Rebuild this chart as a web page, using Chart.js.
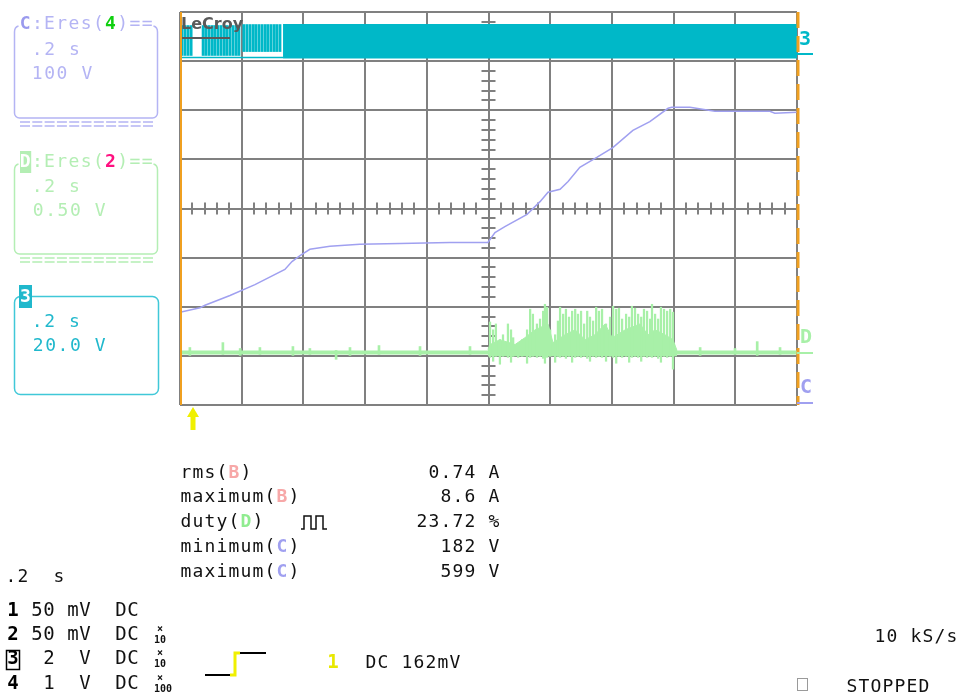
<!DOCTYPE html>
<html lang="en">
<head>
<meta charset="UTF-8" />
<title>LeCroy capture</title>
<script src="https://cdn.jsdelivr.net/npm/chart.js"></script>
<style>
  body { margin: 0; background: #fff; }
  canvas { display: block; }
</style>
</head>
<body>
<canvas id="scope" width="960" height="693"></canvas>
<script>
// time axis in ms: 0.2 s/div, 10 divisions
var timeMin = 0, timeMax = 2000, timeStep = 200;

// trace C = Eres(4), volts (100 V/div)
var cTime  = [0, 65, 81, 162, 243, 340, 363, 389, 421, 486, 583, 713, 875, 998, 1021, 1053, 1125, 1167, 1193, 1232, 1258, 1296, 1351, 1403, 1468, 1523, 1582, 1594, 1653, 1734, 1912, 1928, 2000];
var cVolts = [182, 191, 196, 216, 238, 269, 285, 297, 310, 316, 320, 322, 324, 324, 344, 356, 381, 407, 426, 432, 448, 477, 497, 517, 552, 570, 597, 599, 599, 591, 591, 587, 589];

// trace D = Eres(2), volts (0.5 V/div)
var dBaseTime  = [0, 2000];
var dBaseVolts = [0, 0];
var quietTime = [32, 139, 195, 259, 366, 421, 506, 551, 645, 778, 940, 1686, 1799, 1871, 1945];
var quietHigh = [0.05, 0.10, 0.04, 0.05, 0.06, 0.04, 0.02, 0.05, 0.07, 0.06, 0.06, 0.05, 0.04, 0.11, 0.05];
var quietLow  = [-0.03, -0.02, -0.03, -0.02, -0.03, -0.02, -0.07, -0.03, -0.02, -0.03, -0.02, -0.03, -0.02, -0.03, -0.02];
var burstTime = [1005, 1015, 1024, 1037, 1047, 1063, 1073, 1080, 1096, 1109, 1125, 1135, 1144, 1157, 1167, 1177, 1183, 1190, 1200, 1216, 1225, 1232, 1242, 1251, 1261, 1271, 1281, 1290, 1300, 1310, 1320, 1329, 1339, 1349, 1358, 1368, 1381, 1394, 1404, 1414, 1423, 1433, 1446, 1456, 1465, 1475, 1485, 1495, 1504, 1514, 1524, 1530, 1540, 1550, 1559, 1569, 1579, 1589, 1598];
var burstHigh = [0.31, 0.23, 0.29, 0.13, 0.18, 0.29, 0.23, 0.15, 0.08, 0.13, 0.23, 0.44, 0.39, 0.29, 0.34, 0.42, 0.49, 0.46, 0.23, 0.18, 0.32, 0.46, 0.39, 0.44, 0.36, 0.42, 0.44, 0.39, 0.42, 0.29, 0.42, 0.36, 0.32, 0.46, 0.42, 0.44, 0.29, 0.36, 0.47, 0.44, 0.45, 0.34, 0.39, 0.36, 0.47, 0.45, 0.39, 0.36, 0.44, 0.42, 0.34, 0.49, 0.39, 0.34, 0.46, 0.44, 0.42, 0.44, 0.41];
var burstLow  = [-0.05, -0.09, -0.04, -0.12, -0.04, -0.05, -0.10, -0.04, -0.05, -0.04, -0.11, -0.05, -0.04, -0.05, -0.04, -0.06, -0.11, -0.05, -0.04, -0.10, -0.04, -0.05, -0.04, -0.06, -0.04, -0.10, -0.05, -0.04, -0.05, -0.04, -0.06, -0.09, -0.04, -0.05, -0.04, -0.05, -0.09, -0.04, -0.05, -0.11, -0.04, -0.05, -0.04, -0.10, -0.05, -0.04, -0.05, -0.09, -0.04, -0.05, -0.04, -0.05, -0.04, -0.06, -0.10, -0.04, -0.05, -0.04, -0.17];
var bodyTime = [998, 1005, 1037, 1086, 1118, 1151, 1193, 1209, 1248, 1281, 1313, 1345, 1378, 1401, 1443, 1491, 1517, 1540, 1572, 1598, 1611];
var bodyHigh = [0.03, 0.08, 0.13, 0.08, 0.15, 0.23, 0.29, 0.10, 0.18, 0.23, 0.13, 0.18, 0.29, 0.15, 0.23, 0.29, 0.18, 0.23, 0.18, 0.13, 0.02];

// trace 3, volts (20 V/div): sparse comb at the start, then a solid band
var combTime = [6, 16, 26, 36, 75, 84, 94, 104, 113, 123, 133, 143, 152, 162, 172, 182, 191, 207, 217, 227, 237, 246, 256, 266, 276, 285, 295, 305, 314, 324];
var combHigh = [11.8, 11.8, 11.8, 11.8, 11.8, 11.8, 11.8, 11.8, 11.8, 11.8, 11.8, 11.8, 11.8, 11.8, 11.8, 11.8, 11.8, 12.2, 12.2, 12.2, 12.2, 12.2, 12.2, 12.2, 12.2, 12.2, 12.2, 12.2, 12.2, 12.2];
var combLow  = [-0.4, -0.4, -0.4, -0.4, -0.4, -0.4, -0.4, -0.4, -0.4, -0.4, -0.4, -0.4, -0.4, -0.4, -0.4, -0.4, -0.4, 1.2, 1.2, 1.2, 1.2, 1.2, 1.2, 1.2, 1.2, 1.2, 1.2, 1.2, 1.2, 1.2];
var bandTime = [334, 2000];
var bandHigh = [12.2, 12.2];
var bandLow = -1.6;
var floorTime = [0, 334];
var floorVolts = [-1.2, -1.2];

// readouts
var measureNames  = ['rms', 'maximum', 'duty', 'minimum', 'maximum'];
var measureSource = ['B', 'B', 'D', 'C', 'C'];
var measureValues = ['0.74 A', '8.6 A', '23.72 %', '182 V', '599 V'];
var chanRows = [['1', ' 50 mV  DC', ''], ['2', ' 50 mV  DC', '10'], ['3', '  2  V  DC', '10'], ['4', '  1  V  DC', '100']];

var MONO = '"DejaVu Sans Mono", monospace';
var grid = '#808080';
var purple = '#a0a0f0', green = '#a8f0a8', teal = '#00b8c8', orange = '#f0a020';

function pts(xs, ys) { return xs.map(function (x, i) { return { x: x, y: ys[i] }; }); }
function bars(xs, lo, hi) { return xs.map(function (x, i) { return { x: x, y: [lo[i], hi[i]] }; }); }

// draw text on a fixed character grid
function run(ctx, x, y, adv, size, parts) {
  var i = 0;
  ctx.textAlign = 'center';
  ctx.textBaseline = 'middle';
  parts.forEach(function (p) {
    ctx.font = (p[2] ? 'bold ' : '') + size + 'px ' + MONO;
    for (var k = 0; k < p[0].length; k++) {
      var ch = p[0][k];
      var cx = x + adv * (i + 0.5);
      if (p[3]) {
        ctx.fillStyle = p[3];
        ctx.fillRect(cx - adv / 2 + 1, y - 11, adv - 1, 22);
      }
      if (ch !== ' ') {
        ctx.fillStyle = p[1];
        ctx.fillText(ch, cx, y);
      }
      i++;
    }
  });
}

function openBox(ctx, top, bottom, color) {
  var l = 14.5, r = 157.5, rad = 5;
  ctx.strokeStyle = color;
  ctx.lineWidth = 1.5;
  ctx.beginPath();
  ctx.moveTo(l + 4, top - 4);
  ctx.quadraticCurveTo(l, top - 3, l, top + 2);
  ctx.lineTo(l, bottom - rad);
  ctx.arcTo(l, bottom, l + rad, bottom, rad);
  ctx.lineTo(r - rad, bottom);
  ctx.arcTo(r, bottom, r, bottom - rad, rad);
  ctx.lineTo(r, top + 2);
  ctx.quadraticCurveTo(r, top - 3, r - 4, top - 4);
  ctx.stroke();
  ctx.setLineDash([10, 2.3]);
  ctx.beginPath();
  ctx.moveTo(20, bottom + 4); ctx.lineTo(155, bottom + 4);
  ctx.moveTo(20, bottom + 8); ctx.lineTo(155, bottom + 8);
  ctx.stroke();
  ctx.setLineDash([]);
}

var overlay = {
  id: 'overlay',
  beforeDatasetsDraw: function (chart) {
    var ctx = chart.ctx, xs = chart.scales.x, ys = chart.scales.y;
    var cx = xs.getPixelForValue(1000), cy = ys.getPixelForValue(0);
    ctx.save();
    ctx.strokeStyle = grid;
    ctx.lineWidth = 2;
    ctx.beginPath();
    for (var i = 1; i < 50; i++) {
      if (i % 5 === 0) continue;
      var px = Math.round(xs.getPixelForValue(i * 40));
      ctx.moveTo(px, cy - 6); ctx.lineTo(px, cy + 6);
    }
    for (var j = -19; j < 20; j++) {
      if (j % 5 === 0) continue;
      var py = Math.round(ys.getPixelForValue(j / 5));
      ctx.moveTo(cx - 7, py); ctx.lineTo(cx + 7, py);
    }
    ctx.stroke();
    ctx.restore();
  },
  afterDraw: function (chart) {
    var ctx = chart.ctx, a = chart.chartArea;
    ctx.save();

    // logo
    ctx.fillStyle = '#5a5a5a';
    ctx.font = 'bold 16px "DejaVu Sans"';
    ctx.textAlign = 'left';
    ctx.textBaseline = 'middle';
    ctx.fillText('LeCroy', a.left + 1, 25);
    ctx.fillRect(a.left + 2, 37, 48, 2);

    // trigger position / frame markers
    ctx.strokeStyle = orange;
    ctx.lineWidth = 2;
    ctx.beginPath();
    ctx.moveTo(a.left + 1, a.top); ctx.lineTo(a.left + 1, a.bottom);
    ctx.stroke();
    ctx.lineWidth = 3;
    ctx.setLineDash([16, 8]);
    ctx.beginPath();
    ctx.moveTo(a.right + 1, a.top); ctx.lineTo(a.right + 1, a.bottom);
    ctx.stroke();
    ctx.setLineDash([]);

    ctx.fillStyle = '#f0f000';
    ctx.beginPath();
    ctx.moveTo(187, 417); ctx.lineTo(193, 407); ctx.lineTo(199, 417);
    ctx.closePath(); ctx.fill();
    ctx.fillRect(190.5, 416, 5, 14);

    // trace labels on the right edge
    ctx.font = 'bold 20px ' + MONO;
    ctx.textAlign = 'center';
    ctx.fillStyle = teal; ctx.fillText('3', 805, 40);
    ctx.fillRect(797, 53, 16, 2);
    ctx.fillStyle = green; ctx.fillText('D', 806, 338);
    ctx.fillRect(797, 352, 16, 2);
    ctx.fillStyle = purple; ctx.fillText('C', 806, 388);
    ctx.fillRect(797, 402, 16, 2);

    // trace info boxes
    openBox(ctx, 30, 118, '#b4b4f4');
    run(ctx, 19, 24, 12.2, 18, [['C', '#9a9aee', true], [':Eres(', '#b4b4f4'], ['4', '#10d010', true], [')==', '#b4b4f4']]);
    run(ctx, 31, 50, 12.4, 18, [['.2 s', '#b4b4f4']]);
    run(ctx, 31, 74, 12.4, 18, [['100 V', '#b4b4f4']]);

    openBox(ctx, 168, 254, '#b4eeb4');
    run(ctx, 19, 162, 12.2, 18, [['D', '#ffffff', true, '#b4eeb4'], [':Eres(', '#b4eeb4'], ['2', '#ff1080', true], [')==', '#b4eeb4']]);
    run(ctx, 31, 187, 12.4, 18, [['.2 s', '#b4eeb4']]);
    run(ctx, 32, 211, 12.4, 18, [['0.50 V', '#b4eeb4']]);

    ctx.strokeStyle = '#40c8d8';
    ctx.lineWidth = 1.5;
    ctx.beginPath();
    ctx.roundRect(14.5, 296.5, 144, 98, 6);
    ctx.stroke();
    ctx.fillStyle = '#20b8cc';
    ctx.fillRect(19, 285, 13, 23);
    ctx.font = 'bold 18px ' + MONO;
    ctx.fillStyle = '#ffffff';
    ctx.fillText('3', 25.5, 297);
    run(ctx, 31, 322, 12.4, 18, [['.2 s', '#20b8cc']]);
    run(ctx, 32, 346, 12.4, 18, [['20.0 V', '#20b8cc']]);

    // measurements
    var srcColor = { B: '#f7a8a8', D: '#90ec90', C: '#a0a0f0' };
    var rowY = [473, 497.5, 522, 547, 572];
    for (var m = 0; m < measureNames.length; m++) {
      run(ctx, 180, rowY[m], 12, 18, [[measureNames[m] + '(', '#111'], [measureSource[m], srcColor[measureSource[m]], true], [')', '#111']]);
      var v = measureValues[m];
      run(ctx, 500 - v.length * 12, rowY[m], 12, 18, [[v, '#111']]);
    }
    ctx.strokeStyle = '#111';
    ctx.lineWidth = 1.5;
    ctx.beginPath();
    ctx.moveTo(301, 529); ctx.lineTo(304, 529); ctx.lineTo(304, 516); ctx.lineTo(311, 516);
    ctx.lineTo(311, 529); ctx.lineTo(316, 529); ctx.lineTo(316, 516); ctx.lineTo(323, 516);
    ctx.lineTo(323, 529); ctx.lineTo(327, 529);
    ctx.stroke();

    // timebase + channel setup
    run(ctx, 5, 577, 12, 18, [['.2  s', '#111']]);
    var chanY = [611, 635, 659, 684];
    for (var c = 0; c < chanRows.length; c++) {
      run(ctx, 7, chanY[c], 12, 19, [[chanRows[c][0], '#000', true], [chanRows[c][1], '#111']]);
      if (chanRows[c][2]) {
        ctx.fillStyle = '#111';
        ctx.font = 'bold 10px ' + MONO;
        ctx.textAlign = 'center';
        ctx.fillText('\u00d7', 160, chanY[c] - 6);
        ctx.fillText(chanRows[c][2], 160 + (chanRows[c][2].length - 2) * 3, chanY[c] + 5);
      }
    }
    ctx.strokeStyle = '#000';
    ctx.lineWidth = 1.5;
    ctx.strokeRect(6.5, 650.5, 13, 19);

    // trigger readout
    ctx.lineWidth = 2;
    ctx.strokeStyle = '#000';
    ctx.beginPath();
    ctx.moveTo(205, 675); ctx.lineTo(230, 675);
    ctx.moveTo(240, 653); ctx.lineTo(266, 653);
    ctx.stroke();
    ctx.strokeStyle = '#f0f000';
    ctx.lineWidth = 3;
    ctx.beginPath();
    ctx.moveTo(230, 675); ctx.lineTo(235, 675); ctx.lineTo(235, 653); ctx.lineTo(240, 653);
    ctx.stroke();
    run(ctx, 327, 663, 12, 19, [['1', '#e8e800', true]]);
    run(ctx, 365, 663, 12, 18, [['DC 162mV', '#111']]);

    run(ctx, 874, 637, 12, 18, [['10 kS/s', '#111']]);
    run(ctx, 846, 687, 12, 18, [['STOPPED', '#111']]);
    ctx.strokeStyle = '#9a9a9a';
    ctx.lineWidth = 1;
    ctx.strokeRect(797.5, 678.5, 10, 12);

    ctx.restore();
  }
};

var ctx = document.getElementById('scope').getContext('2d');
var scopeChart = new Chart(ctx, {
  type: 'line',
  data: {
    datasets: [
      { label: 'C', data: pts(cTime, cVolts), yAxisID: 'yC', borderColor: purple, borderWidth: 1.5, pointRadius: 0, fill: false, order: 1 },
      { type: 'bar', label: 'D burst', data: bars(burstTime, burstLow, burstHigh), yAxisID: 'yD', backgroundColor: green, barThickness: 1.6, grouped: false, order: 2 },
      { label: 'D body', data: pts(bodyTime, bodyHigh), yAxisID: 'yD', borderColor: green, borderWidth: 1, backgroundColor: green, pointRadius: 0, fill: { value: -0.04 }, order: 3 },
      { type: 'bar', label: 'D spikes', data: bars(quietTime, quietLow, quietHigh), yAxisID: 'yD', backgroundColor: green, barThickness: 2, grouped: false, order: 4 },
      { label: 'D', data: pts(dBaseTime, dBaseVolts), yAxisID: 'yD', borderColor: green, borderWidth: 4, pointRadius: 0, fill: false, order: 5 },
      { type: 'bar', label: '3 comb', data: bars(combTime, combLow, combHigh), yAxisID: 'y3', backgroundColor: teal, barThickness: 2.2, grouped: false, order: 6 },
      { label: '3', data: pts(bandTime, bandHigh), yAxisID: 'y3', borderColor: teal, borderWidth: 1, backgroundColor: teal, pointRadius: 0, fill: { value: bandLow }, order: 7 },
      { label: '3 floor', data: pts(floorTime, floorVolts), yAxisID: 'y3', borderColor: teal, borderWidth: 1.5, pointRadius: 0, fill: false, order: 8 }
    ]
  },
  options: {
    responsive: false,
    animation: false,
    events: [],
    layout: { padding: { left: 180, right: 163, top: 12, bottom: 288 } },
    plugins: { legend: { display: false }, tooltip: { enabled: false } },
    scales: {
      x: {
        type: 'linear', min: timeMin, max: timeMax, offset: false,
        ticks: { display: false, stepSize: timeStep },
        grid: { color: grid, lineWidth: 2, drawTicks: false, offset: false },
        border: { display: false }
      },
      y: {
        min: -4, max: 4,
        ticks: { display: false, stepSize: 1 },
        grid: { color: grid, lineWidth: 2, drawTicks: false },
        border: { display: false }
      },
      yC: { display: false, min: -7, max: 793 },
      yD: { display: false, min: -0.535, max: 3.465 },
      y3: { display: false, min: -142.7, max: 17.3 }
    }
  },
  plugins: [overlay]
});
</script>
</body>
</html>
